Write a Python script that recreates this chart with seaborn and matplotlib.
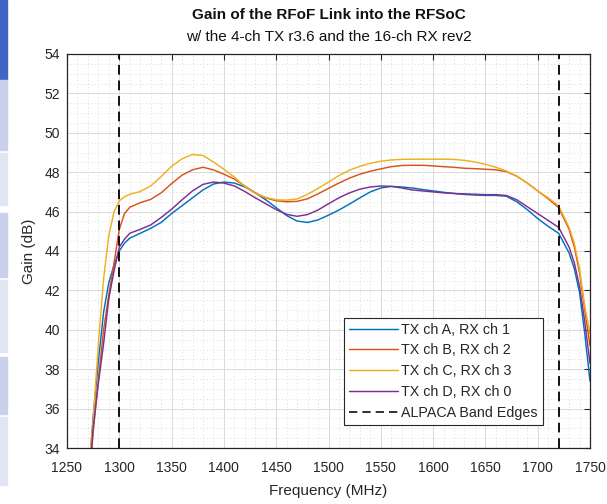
import numpy as np
import pandas as pd
import matplotlib
matplotlib.use("Agg")
import matplotlib.pyplot as plt
import seaborn as sns
from matplotlib.ticker import MultipleLocator
from matplotlib.patches import Rectangle
from matplotlib.lines import Line2D

# ---------------- data ----------------
freq_mhz = [1270, 1275, 1280, 1285, 1290, 1295, 1300, 1305, 1310, 1320, 1330, 1340, 1350,
            1360, 1370, 1380, 1390, 1400, 1410, 1420, 1430, 1440, 1450, 1460, 1470,
            1480, 1490, 1500, 1510, 1520, 1530, 1540, 1550, 1560, 1570, 1580, 1590,
            1600, 1610, 1620, 1630, 1640, 1650, 1660, 1670, 1680, 1690, 1700, 1710,
            1720, 1730, 1735, 1740, 1745, 1750]

gain_a = [32.0, 35.6, 38.4, 40.9, 42.4, 43.3, 44.0, 44.4, 44.65, 44.9, 45.15, 45.45, 45.9,
          46.3, 46.7, 47.1, 47.4, 47.5, 47.45, 47.25, 46.95, 46.6, 46.2, 45.8, 45.52,
          45.45, 45.58, 45.82, 46.08, 46.38, 46.7, 47.0, 47.2, 47.28, 47.25, 47.2, 47.12,
          47.05, 46.98, 46.92, 46.87, 46.84, 46.82, 46.82, 46.78, 46.5, 46.1, 45.65, 45.25,
          44.9, 43.9, 43.1, 41.9, 39.8, 37.4]

gain_b = [31.5, 34.8, 37.5, 40.0, 41.8, 43.4, 45.1, 45.9, 46.22, 46.45, 46.62, 46.95, 47.42,
          47.85, 48.12, 48.25, 48.12, 47.9, 47.65, 47.3, 46.95, 46.7, 46.55, 46.5, 46.52,
          46.65, 46.9, 47.18, 47.45, 47.7, 47.9, 48.05, 48.17, 48.28, 48.34, 48.35, 48.35,
          48.32, 48.28, 48.25, 48.2, 48.18, 48.15, 48.12, 48.03, 47.8, 47.45, 47.05, 46.65,
          46.2, 45.1, 44.2, 42.9, 41.0, 39.2]

gain_c = [32.5, 35.4, 39.3, 42.6, 44.8, 46.0, 46.55, 46.75, 46.88, 47.02, 47.3, 47.78, 48.3,
          48.68, 48.9, 48.85, 48.52, 48.15, 47.75, 47.28, 46.92, 46.72, 46.6, 46.58, 46.64,
          46.88, 47.18, 47.5, 47.83, 48.1, 48.3, 48.45, 48.56, 48.62, 48.65, 48.66, 48.66,
          48.66, 48.66, 48.65, 48.6, 48.52, 48.4, 48.25, 48.06, 47.8, 47.45, 47.05, 46.7,
          46.3, 45.2, 44.4, 43.1, 41.2, 39.8]

gain_d = [31.5, 35.0, 37.3, 39.3, 41.6, 43.0, 44.2, 44.6, 44.9, 45.1, 45.32, 45.7, 46.12,
          46.6, 47.05, 47.38, 47.5, 47.45, 47.3, 47.02, 46.7, 46.4, 46.1, 45.86, 45.76,
          45.85, 46.08, 46.4, 46.7, 46.95, 47.14, 47.25, 47.3, 47.28, 47.2, 47.1, 47.05,
          47.0, 46.95, 46.92, 46.9, 46.88, 46.86, 46.86, 46.82, 46.6, 46.25, 45.9, 45.55,
          45.2, 44.2, 43.4, 42.2, 40.4, 38.3]

series_labels = ["TX ch A, RX ch 1", "TX ch B, RX ch 2", "TX ch C, RX ch 3", "TX ch D, RX ch 0"]
series_colors = ["#0072BD", "#D95319", "#EDB120", "#7E2F8E"]
band_edges = [1300, 1720]
band_label = "ALPACA Band Edges"

title_main = "Gain of the RFoF Link into the RFSoC"
title_sub = "w/ the 4-ch TX r3.6 and the 16-ch RX rev2"

# ---------------- figure ----------------
sns.set_theme(style="white")
plt.rcParams["font.family"] = ["Liberation Sans", "DejaVu Sans"]
plt.rcParams["lines.solid_joinstyle"] = "round"

W, H = 607, 504
fig = plt.figure(figsize=(W / 100, H / 100), dpi=100)

# left strip artifact (screenshot side-bar)
strip = [(0, 80, "#3F66C2"), (80, 150, "#C9D1EC"), (153, 205, "#E2E6F4"),
         (213, 277, "#C9D1EC"), (280, 352, "#E2E6F4"), (357, 414, "#C9D1EC"),
         (417, 485, "#E2E6F4")]
for y0, y1, c in strip:
    fig.patches.append(Rectangle((0, 1 - y1 / H), 7 / W, (y1 - y0) / H,
                                 transform=fig.transFigure, color=c, zorder=0))

L, R, T, B = 67, 590, 54, 448
ax = fig.add_axes([L / W, 1 - B / H, (R - L) / W, (B - T) / H])

rows = []
for lab, g in zip(series_labels, [gain_a, gain_b, gain_c, gain_d]):
    for f, v in zip(freq_mhz, g):
        rows.append({"freq": f, "gain": v, "series": lab})
df = pd.DataFrame(rows)

sns.lineplot(data=df, x="freq", y="gain", hue="series", hue_order=series_labels,
             palette=series_colors, estimator=None, linewidth=1.05, ax=ax, legend=False)

for e in band_edges:
    ax.axvline(e, color="#111111", linestyle=(0, (5, 3)), linewidth=1.4, zorder=3)

ax.set_xlim(1250, 1750)
ax.set_ylim(34, 54)
ax.xaxis.set_major_locator(MultipleLocator(50))
ax.xaxis.set_minor_locator(MultipleLocator(10))
ax.yaxis.set_major_locator(MultipleLocator(2))
ax.yaxis.set_minor_locator(MultipleLocator(0.5))

ax.grid(which="major", color="#d9d9d9", linewidth=0.7)
ax.grid(which="minor", color="#dcdcdc", linewidth=0.7, linestyle=(0, (1, 2.5)))
ax.set_axisbelow(True)

axis_col = "#262626"
for s in ax.spines.values():
    s.set_color(axis_col)
    s.set_linewidth(0.9)
ax.tick_params(which="major", direction="in", top=True, right=True, length=4,
               width=0.8, color=axis_col, labelcolor="#262626", labelsize=10)
ax.tick_params(axis="x", pad=9)
ax.tick_params(axis="y", pad=5)
ax.tick_params(which="minor", length=0)

ax.set_xlabel("Frequency (MHz)", fontsize=11, color="#262626", labelpad=7)
ax.set_ylabel("Gain (dB)", fontsize=11, color="#262626", labelpad=6)

ax.text(0.5, 1 + 39 / (B - T), title_main, transform=ax.transAxes, ha="center",
        va="center", fontsize=11, fontweight="bold", color="#111111")
ax.text(0.5, 1 + 17 / (B - T), title_sub, transform=ax.transAxes, ha="center",
        va="center", fontsize=11, color="#111111")

handles = [Line2D([], [], color=c, linewidth=1.05) for c in series_colors]
handles.append(Line2D([], [], color="#111111", linestyle=(0, (5, 3)), linewidth=1.2))
leg = ax.legend(handles, series_labels + [band_label], loc="lower right",
                bbox_to_anchor=((543 - L) / (R - L), (B - 425) / (B - T)),
                frameon=True, fancybox=False, framealpha=1, edgecolor=axis_col,
                fontsize=10.3, handlelength=3.4, handletextpad=0.25, labelspacing=0.48,
                borderpad=0.35, borderaxespad=0)
leg.get_frame().set_linewidth(0.8)

fig.savefig("out.png", dpi=100)
